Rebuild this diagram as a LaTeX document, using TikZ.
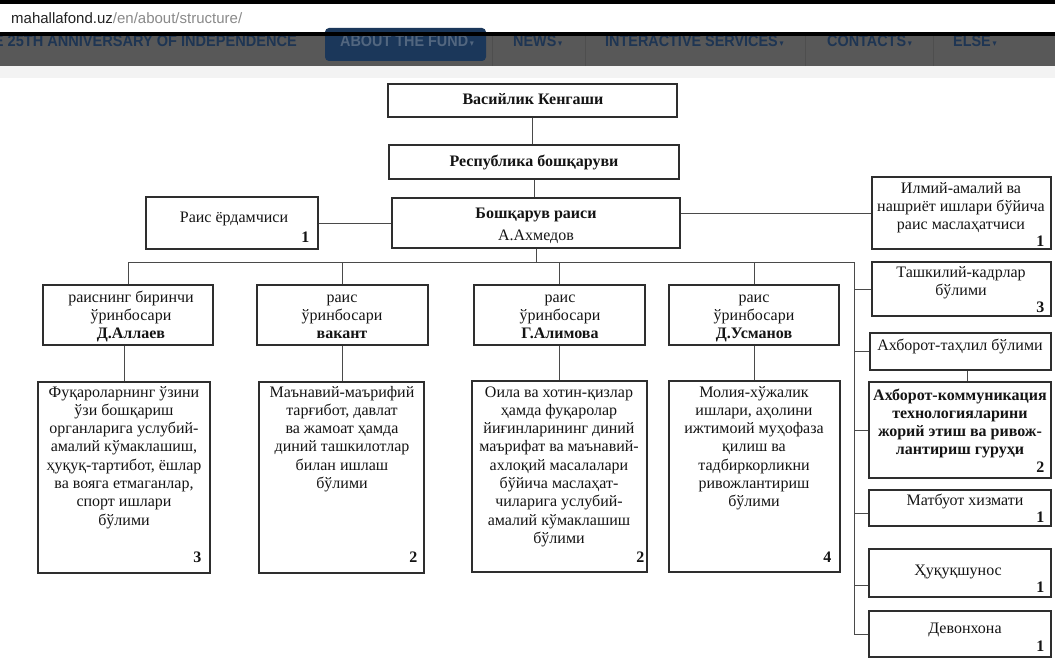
\documentclass[tikz,border=0pt]{standalone}
\usepackage{fontspec}
\setmainfont{Liberation Serif}
\newfontfamily\navfont{Liberation Sans}
\newfontfamily\dvs{DejaVu Sans}
\usetikzlibrary{fit}
\definecolor{boxc}{HTML}{2E2E2E}
\definecolor{linec}{HTML}{4A4A4A}
\definecolor{ink}{HTML}{141414}
\definecolor{navgray}{HTML}{585858}
\definecolor{navblue}{HTML}{1B375A}
\definecolor{navtext}{HTML}{1E3553}
\definecolor{btntext}{HTML}{52667F}
\definecolor{sepc}{HTML}{4E4E4E}
\definecolor{urldark}{HTML}{222222}
\definecolor{urlgray}{HTML}{8A8A8A}
\definecolor{stripc}{HTML}{F3F3F3}
\newcommand\bodyfont{\fontsize{16}{18.3}\selectfont}
\newcommand\tri{\hspace{2pt}{\dvs\fontsize{9}{9}\selectfont ▾}}
\begin{document}
\begin{tikzpicture}[x=1pt,y=-1pt,
  box/.style={draw=boxc, line width=1.3pt, fill=white, inner sep=0pt},
  conn/.style={draw=linec, line width=1pt},
  txt/.style={font=\bodyfont, text=ink, align=center, inner sep=0pt, anchor=base},
  btxt/.style={txt, font=\bodyfont\bfseries},
  num/.style={font=\bodyfont\bfseries, text=ink, inner sep=0pt, anchor=south east},
  nav/.style={font=\navfont\bfseries\fontsize{16}{16}\selectfont, text=navtext, inner sep=0pt},
  sep/.style={draw=sepc, line width=0.8pt}
]
\useasboundingbox (0,0) rectangle (1055,666);
\clip (0,0) rectangle (1055,666);
% page backgrounds
\fill[white] (0,0) rectangle (1055,666);
\fill[stripc] (0,66) rectangle (1055,78);
% nav bar
\fill[navgray] (0,36) rectangle (1055,66);
\fill[navblue, rounded corners=4pt] (325,28) rectangle (486,61);
\draw[sep] (492,36) -- (492,66);
\draw[sep] (585,36) -- (585,66);
\draw[sep] (805,36) -- (805,66);
\draw[sep] (933,36) -- (933,66);
\node[nav, anchor=base east] (n0) at (297,47) {\scalebox{0.91}[1]{E 25TH ANNIVERSARY OF INDEPENDENCE}};
\node[nav, anchor=base west, text=btntext] (n1) at (340,47) {\scalebox{0.9}[1]{ABOUT THE FUND\tri}};
\node[nav, anchor=base west] (n2) at (513,47) {\scalebox{0.9}[1]{NEWS\tri}};
\node[nav, anchor=base west] (n3) at (605,47) {\scalebox{0.9}[1]{INTERACTIVE SERVICES\tri}};
\node[nav, anchor=base west] (n4) at (827,47) {\scalebox{0.9}[1]{CONTACTS\tri}};
\node[nav, anchor=base west] (n5) at (953,47) {\scalebox{0.9}[1]{ELSE\tri}};
% browser bars
\fill[black] (0,0) rectangle (1055,4);
\fill[black] (0,32) rectangle (1055,36);
\node[anchor=base west, inner sep=0pt, font=\navfont\fontsize{15}{15}\selectfont] (url) at (11,24)
  {\textcolor{urldark}{mahallafond.uz}\textcolor{urlgray}{/en/about/structure/}};

% ---------- boxes ----------
\node[box, fit={(388,84) (677,117)}] (vas) {};
\node[box, fit={(389,145) (679,179)}] (resp) {};
\node[box, fit={(392,198) (680,248)}] (boss) {};
\node[box, fit={(146,197) (318,249)}] (yord) {};
\node[box, fit={(872,177) (1051,249)}] (ilm) {};
\node[box, fit={(872,262) (1051,316)}] (tash) {};
\node[box, fit={(870,333) (1051,370)}] (tah) {};
\node[box, fit={(869,382) (1051,478)}] (akt) {};
\node[box, fit={(869,490) (1051,526)}] (mat) {};
\node[box, fit={(869,549) (1051,597)}] (huq) {};
\node[box, fit={(869,611) (1051,657)}] (dev) {};
\node[box, fit={(43,285) (213,345)}] (c1t) {};
\node[box, fit={(257,285) (428,345)}] (c2t) {};
\node[box, fit={(474,285) (645,345)}] (c3t) {};
\node[box, fit={(669,285) (839,345)}] (c4t) {};
\node[box, fit={(38,382) (210,573)}] (c1b) {};
\node[box, fit={(259,382) (424,573)}] (c2b) {};
\node[box, fit={(472,381) (647,572)}] (c3b) {};
\node[box, fit={(669,381) (840,572)}] (c4b) {};

% ---------- texts (anchor = baseline of last line) ----------
\node[btxt] (vasT) at (533,105) {Васийлик Кенгаши};
\node[btxt] (respT) at (534,167) {Республика бошқаруви};
\node[txt, font=\fontsize{16}{21}\selectfont] (bossT) at (536,240) {\textbf{Бошқарув раиси}\\А.Ахмедов};
\node[txt] (yordT) at (234,222) {Раис ёрдамчиси};
\node[txt] (ilmT) at (961,229.6) {Илмий-амалий ва\\нашриёт ишлари бўйича\\раис маслаҳатчиси};
\node[txt] (tashT) at (961,295.3) {Ташкилий-кадрлар\\бўлими};
\node[txt] (tahT) at (960,350) {Ахборот-таҳлил бўлими};
\node[btxt] (aktT) at (960,454.9) {Ахборот-коммуникация\\технологияларини\\жорий этиш ва ривож-\\лантириш гуруҳи};
\node[txt] (matT) at (965,505) {Матбуот хизмати};
\node[txt] (huqT) at (958,575) {Ҳуқуқшунос};
\node[txt] (devT) at (965,633) {Девонхона};
\node[txt] (c1tT) at (131,338.6) {раиснинг биринчи\\ўринбосари\\\textbf{Д.Аллаев}};
\node[txt] (c2tT) at (342,338.6) {раис\\ўринбосари\\\textbf{вакант}};
\node[txt] (c3tT) at (560,338.6) {раис\\ўринбосари\\\textbf{Г.Алимова}};
\node[txt] (c4tT) at (754,338.6) {раис\\ўринбосари\\\textbf{Д.Усманов}};
\node[txt] (c1bT) at (124,525.1) {Фуқароларнинг ўзини\\ўзи бошқариш\\органларига услубий-\\амалий кўмаклашиш,\\ҳуқуқ-тартибот, ёшлар\\ва вояга етмаганлар,\\спорт ишлари\\бўлими};
\node[txt] (c2bT) at (342,488.5) {Маънавий-маърифий\\тарғибот, давлат\\ва жамоат ҳамда\\диний ташкилотлар\\билан ишлаш\\бўлими};
\node[txt] (c3bT) at (559,543.4) {Оила ва хотин-қизлар\\ҳамда фуқаролар\\йиғинларининг диний\\маърифат ва маънавий-\\ахлоқий масалалари\\бўйича маслаҳат-\\чиларига услубий-\\амалий кўмаклашиш\\бўлими};
\node[txt] (c4bT) at (754,506.8) {Молия-хўжалик\\ишлари, аҳолини\\ижтимоий муҳофаза\\қилиш ва\\тадбиркорликни\\ривожлантириш\\бўлими};

% ---------- numbers ----------
\node[num] (yordN) at ([xshift=-9pt,yshift=7pt]yord.south east) {1};
\node[num] (ilmN) at ([xshift=-7pt,yshift=3pt]ilm.south east) {1};
\node[num] (tashN) at ([xshift=-7pt,yshift=4pt]tash.south east) {3};
\node[num] (aktN) at ([xshift=-7pt,yshift=6pt]akt.south east) {2};
\node[num] (matN) at ([xshift=-7pt,yshift=4pt]mat.south east) {1};
\node[num] (huqN) at ([xshift=-7pt,yshift=5pt]huq.south east) {1};
\node[num] (devN) at ([xshift=-7pt,yshift=6pt]dev.south east) {1};
\node[num] (c1bN) at ([xshift=-9pt,yshift=11pt]c1b.south east) {3};
\node[num] (c2bN) at ([xshift=-7pt,yshift=11pt]c2b.south east) {2};
\node[num] (c3bN) at ([xshift=-3pt,yshift=10pt]c3b.south east) {2};
\node[num] (c4bN) at ([xshift=-9pt,yshift=10pt]c4b.south east) {4};

% ---------- connectors ----------
\coordinate (busR) at (854,262);
\draw[conn] (vas.south) -- (vas.south |- resp.north);
\draw[conn] (resp.south) -- (resp.south |- boss.north);
\draw[conn] (boss.south) -- (boss.south |- busR);
\draw[conn] (yord.east) -- (boss.west);
\draw[conn] (ilm.west) -- (ilm.west -| boss.east);
\draw[conn] (c1t.north) |- (busR) |- (dev.west);
\draw[conn] (c2t.north) -- (c2t.north |- busR);
\draw[conn] (c3t.north) -- (c3t.north |- busR);
\draw[conn] (c4t.north) -- (c4t.north |- busR);
\draw[conn] (c1b.north) -- (c1b.north |- c1t.south);
\draw[conn] (c2t.south) -- (c2t.south |- c2b.north);
\draw[conn] (c3t.south) -- (c3t.south |- c3b.north);
\draw[conn] (c4t.south) -- (c4t.south |- c4b.north);
\draw[conn] (tash.west) -- (tash.west -| busR);
\draw[conn] (tah.west) -- (tah.west -| busR);
\draw[conn] (akt.west) -- (akt.west -| busR);
\draw[conn] ([yshift=13pt]mat.south west) -- ([yshift=13pt]mat.south west -| busR);
\draw[conn] ([yshift=12pt]huq.south west) -- ([yshift=12pt]huq.south west -| busR);
\draw[conn] ([xshift=7pt]tah.south) -- ([xshift=7pt]tah.south |- akt.north);
\end{tikzpicture}
\end{document}
